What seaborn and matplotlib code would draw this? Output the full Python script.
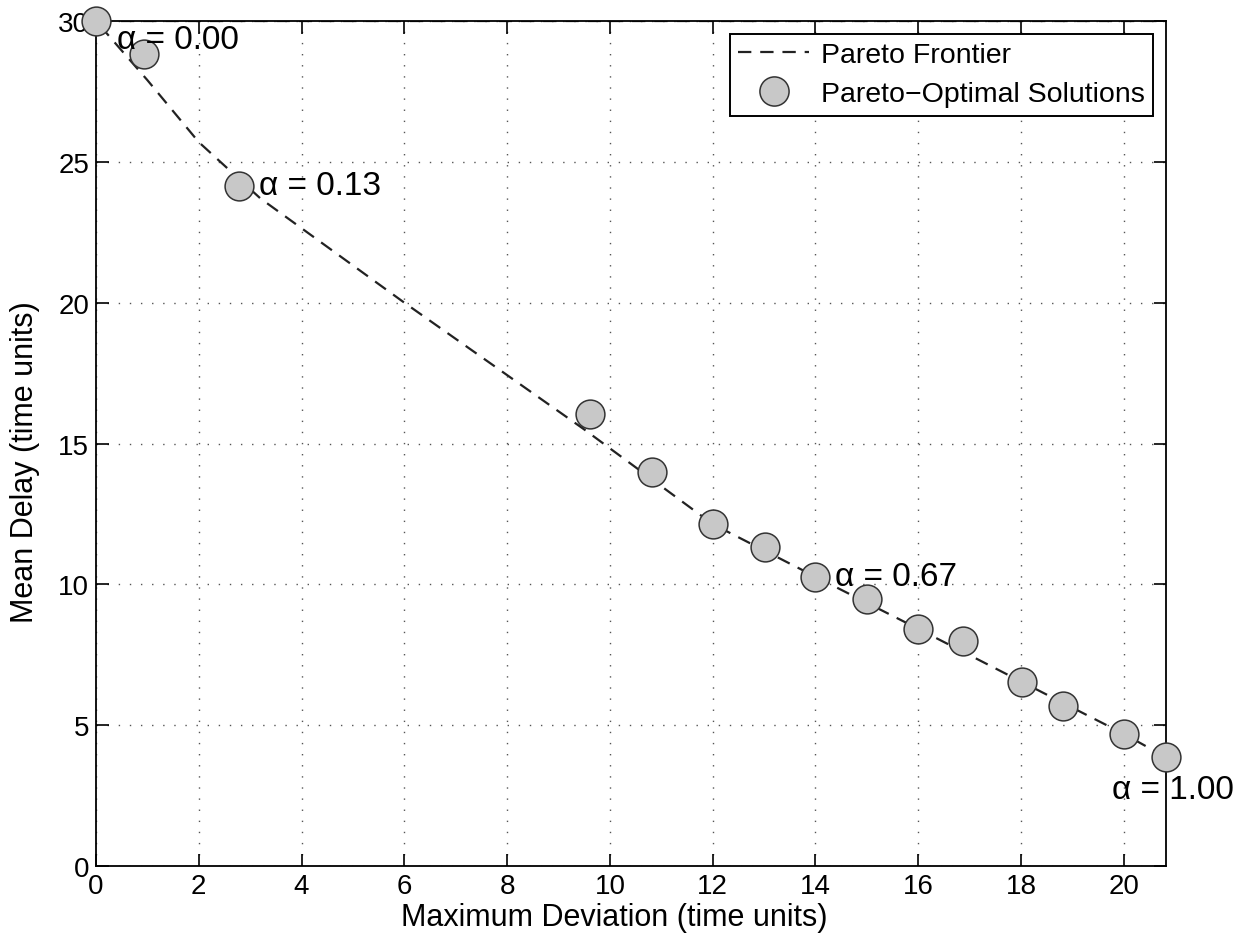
import numpy as np
import pandas as pd
import matplotlib
matplotlib.use("Agg")
import matplotlib.pyplot as plt
import seaborn as sns
from matplotlib.lines import Line2D

# Pareto-optimal solutions
max_deviation = [0.0, 0.94, 2.79, 9.61, 10.81, 12.01, 13.02, 14.0, 15.01,
                 16.0, 16.87, 18.01, 18.81, 20.0, 20.82]
mean_delay = [30.0, 28.83, 24.15, 16.05, 13.98, 12.14, 11.34, 10.27, 9.48,
              8.42, 8.0, 6.55, 5.69, 4.69, 3.86]

# frontier (dashed) vertices
frontier_x = [21.5, 0.0, 1.0, 2.0, 3.2, 6.0, 9.5, 12.0, 14.0, 16.0, 18.0, 20.0, 20.82]
frontier_y = [30.0, 30.0, 27.9, 25.7, 23.7, 20.0, 15.5, 12.14, 10.27, 8.42, 6.55, 4.69, 3.86]

# alpha labels: index of solution, text
label_idx = [0, 2, 7, 14]
label_txt = ["0.00", "0.13", "0.67", "1.00"]
label_off = [(15, -13), (14, 0), (14, 0), (-39, -23)]  # offset points

sol = pd.DataFrame({"dev": max_deviation, "delay": mean_delay})
front = pd.DataFrame({"dev": frontier_x, "delay": frontier_y})

sns.set_style("ticks")
plt.rcParams["font.family"] = ["Liberation Sans", "DejaVu Sans"]

fig = plt.figure(figsize=(12.42, 9.45), dpi=100)
ax = fig.add_axes([0.0773, 0.0825, 0.8615, 0.8942])

sns.lineplot(data=front, x="dev", y="delay", sort=False, ax=ax, color="#222222",
             lw=1.6, dashes=False, zorder=2)
ax.lines[0].set_dashes((6, 4))
sns.scatterplot(data=sol, x="dev", y="delay", ax=ax, s=430, color="#c8c8c8",
                edgecolor="#333333", linewidth=1.1, zorder=3, clip_on=False)

for i, t, off in zip(label_idx, label_txt, label_off):
    ax.annotate("\u03b1 = " + t, (max_deviation[i], mean_delay[i]),
                xytext=off, textcoords="offset points", ha="left", va="center",
                fontsize=24, color="black", zorder=4, annotation_clip=False)

ax.set_xlim(0, 20.82)
ax.set_ylim(0, 30)
ax.set_xticks(np.arange(0, 21, 2))
ax.set_yticks(np.arange(0, 31, 5))
ax.grid(True, linestyle=(0, (1, 7)), color="#555555", lw=1.0)
ax.tick_params(direction="in", length=9, width=1.2, top=True, right=True,
               labelsize=20, pad=5, colors="black")
for s in ax.spines.values():
    s.set_visible(True)
    s.set_linewidth(1.3)
    s.set_color("black")

ax.set_xlabel("Maximum Deviation (time units)", fontsize=22, color="black")
ax.set_ylabel("Mean Delay (time units)", fontsize=22, color="black")
ax.xaxis.set_label_coords(0.484, -0.042)
ax.yaxis.set_label_coords(-0.052, 0.479)

handles = [Line2D([], [], color="#222222", lw=1.6, dashes=(6, 4)),
           Line2D([], [], ls="", marker="o", markersize=21, markerfacecolor="#c8c8c8",
                  markeredgecolor="#333333", markeredgewidth=1.1)]
leg = ax.legend(handles, ["Pareto Frontier", "Pareto\u2212Optimal Solutions"],
                loc="upper right", fontsize=20.5, frameon=True, fancybox=False,
                borderaxespad=0.45, handlelength=2.5, labelspacing=0.45,
                borderpad=0.3, handletextpad=0.4, labelcolor="black")
leg.get_frame().set_edgecolor("black")
leg.get_frame().set_linewidth(1.4)
leg.get_frame().set_alpha(1)

fig.savefig("out.png", dpi=100)
